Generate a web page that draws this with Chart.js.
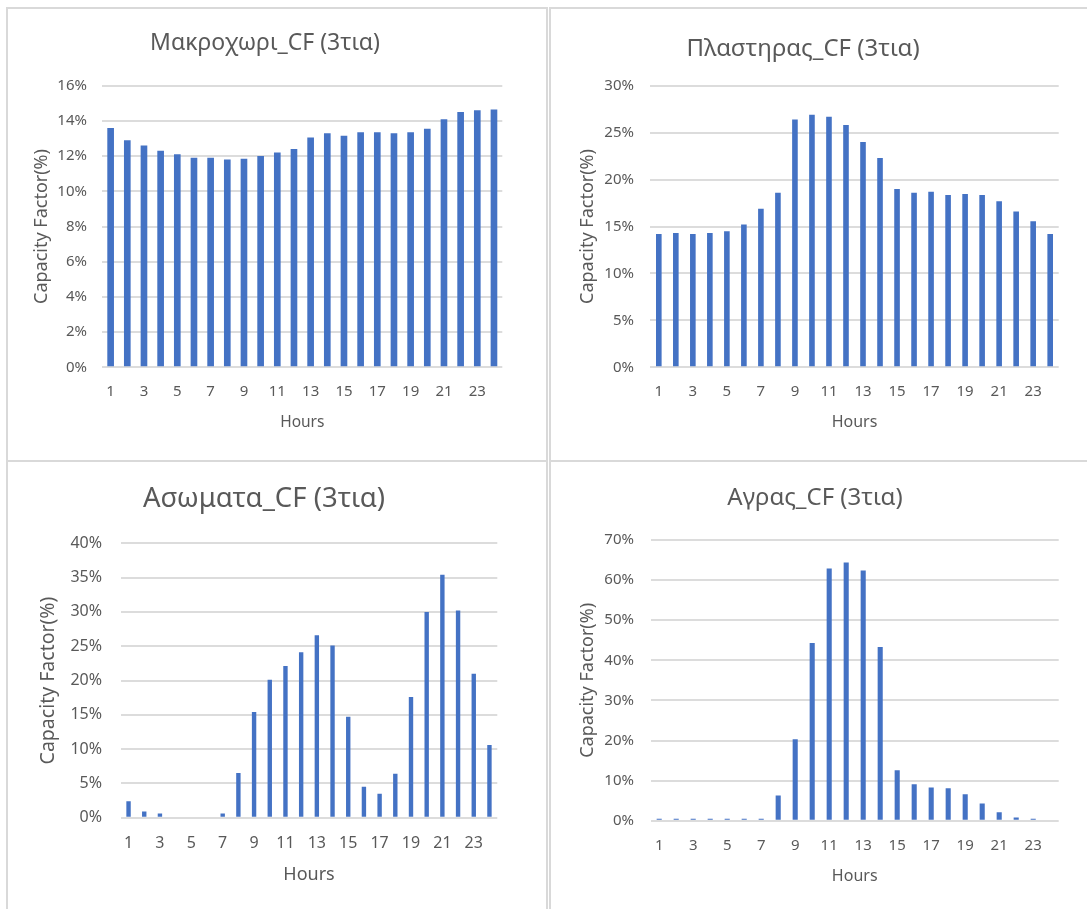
<!DOCTYPE html>
<html>
<head>
<meta charset="utf-8">
<script src="https://cdn.jsdelivr.net/npm/chart.js@4.4.1/dist/chart.umd.min.js"></script>
<style>
  body { margin: 0; background: #fff; width: 1087px; height: 909px; overflow: hidden; position: relative; }
  .panel { position: absolute; box-sizing: border-box; border: 2px solid #d9d9d9; }
  canvas { position: absolute; }
</style>
</head>
<body>
<div class="panel" style="left:6px;top:7px;width:542px;height:455px"></div>
<div class="panel" style="left:549px;top:7px;width:545px;height:455px"></div>
<div class="panel" style="left:6px;top:460px;width:542px;height:460px"></div>
<div class="panel" style="left:549px;top:460px;width:545px;height:460px"></div>

<canvas id="c1" style="left:8px;top:9px"></canvas>
<canvas id="c2" style="left:540px;top:9px"></canvas>
<canvas id="c3" style="left:8px;top:464px"></canvas>
<canvas id="c4" style="left:540px;top:464px"></canvas>

<script>
var hours = ["1", "2", "3", "4", "5", "6", "7", "8", "9", "10", "11", "12",
    "13", "14", "15", "16", "17", "18", "19", "20", "21", "22", "23", "24"];

// capacity factor per hour, in %
var makroxori = [13.6, 12.9, 12.6, 12.3, 12.1, 11.9, 11.9, 11.8, 11.85, 12.0, 12.2, 12.4,
    13.05, 13.3, 13.15, 13.35, 13.35, 13.3, 13.35, 13.55, 14.1, 14.5, 14.6, 14.65];
var plastiras = [14.2, 14.3, 14.2, 14.3, 14.5, 15.2, 16.9, 18.6, 26.4, 26.9, 26.7, 25.8,
    24.0, 22.3, 19.0, 18.6, 18.7, 18.35, 18.45, 18.35, 17.7, 16.6, 15.55, 14.2];
var asomata = [2.4, 0.9, 0.6, 0, 0, 0, 0.6, 6.5, 15.4, 20.1, 22.1, 24.1,
    26.6, 25.1, 14.7, 4.5, 3.5, 6.4, 17.6, 30.0, 35.4, 30.2, 21.0, 10.6];
var agras = [0.5, 0.5, 0.5, 0.5, 0.5, 0.5, 0.5, 6.3, 20.3, 44.3, 62.9, 64.4,
    62.4, 43.3, 12.6, 9.1, 8.3, 8.1, 6.6, 4.3, 2.1, 0.8, 0.5, 0.25];

var titles = ["Μακροχωρι_CF (3τια)", "Πλαστηρας_CF (3τια)", "Ασωματα_CF (3τια)", "Αγρας_CF (3τια)"];
var yMax = [16, 30, 40, 70];
var yStep = [2, 5, 5, 10];

var textColor = "#595959";
var gridColor = "#dcdcdc";
var fontFamily = "'Noto Sans', 'DejaVu Sans', sans-serif";

function makeChart(id, values, i, s) {
    var canvas = document.getElementById(id);
    canvas.width = s.w;
    canvas.height = s.h;
    canvas.style.width = s.w + "px";
    canvas.style.height = s.h + "px";

    return new Chart(canvas, {
        type: 'bar',
        data: {
            labels: hours,
            datasets: [{
                data: values,
                backgroundColor: "#4472C4",
                borderWidth: 0,
                categoryPercentage: 1,
                barPercentage: s.bar
            }]
        },
        options: {
            responsive: false,
            animation: false,
            layout: { padding: { left: s.padL, right: s.padR, top: 0, bottom: 0 } },
            plugins: {
                legend: { display: false },
                tooltip: { enabled: false },
                title: {
                    display: true,
                    text: titles[i],
                    color: textColor,
                    font: { family: fontFamily, size: s.titleSize, weight: 'normal' },
                    padding: { top: s.titleTop, bottom: s.titleBottom }
                }
            },
            scales: {
                x: {
                    grid: { display: false, drawTicks: false },
                    border: { display: false },
                    ticks: {
                        autoSkip: false,
                        maxRotation: 0,
                        color: textColor,
                        font: { family: fontFamily, size: s.tickSize },
                        padding: s.xTickPad,
                        callback: function(val, index) {
                            // only odd hours get a label
                            return index % 2 == 0 ? hours[index] : "";
                        }
                    },
                    title: {
                        display: true,
                        text: "Hours",
                        color: textColor,
                        font: { family: fontFamily, size: s.hoursSize },
                        padding: { top: 0, bottom: s.xTitlePad }
                    },
                    afterFit: function(scale) { scale.height = s.xH; }
                },
                y: {
                    min: 0,
                    max: yMax[i],
                    grid: { color: gridColor, lineWidth: 2, drawTicks: false },
                    border: { display: false },
                    ticks: {
                        stepSize: yStep[i],
                        color: textColor,
                        font: { family: fontFamily, size: s.tickSize },
                        padding: s.yTickPad,
                        callback: function(val) { return val + "%"; }
                    },
                    title: {
                        display: true,
                        text: "Capacity Factor(%)",
                        color: textColor,
                        font: { family: fontFamily, size: s.axisSize },
                        padding: { top: s.yTitlePad, bottom: 0 }
                    },
                    afterFit: function(scale) { scale.width = s.yW; }
                }
            }
        }
    });
}

makeChart("c1", makroxori, 0, { w: 538, h: 450, padL: 19.7, padR: 43.7, yW: 74.6, xH: 91.7,
    titleSize: 23, titleTop: 20.2, titleBottom: 28.9, tickSize: 15, axisSize: 18, hoursSize: 15.5,
    xTickPad: 15.7, yTickPad: 15.3, xTitlePad: 26.7, yTitlePad: 3.5, bar: 0.40 });

makeChart("c2", plastiras, 1, { w: 547, h: 450, padL: 7.3, padR: 28.3, yW: 103, xH: 91.7,
    titleSize: 24, titleTop: 25.6, titleBottom: 22.3, tickSize: 15, axisSize: 18, hoursSize: 16,
    xTickPad: 15.7, yTickPad: 16.3, xTitlePad: 27, yTitlePad: 29.9, bar: 0.33 });

makeChart("c3", asomata, 2, { w: 538, h: 445, padL: 22.7, padR: 48.7, yW: 90, xH: 91.3,
    titleSize: 27.5, titleTop: 18.5, titleBottom: 27.8, tickSize: 16, axisSize: 19.5, hoursSize: 18,
    xTickPad: 15.7, yTickPad: 18.7, xTitlePad: 23.2, yTitlePad: 5.6, bar: 0.28 });

makeChart("c4", agras, 3, { w: 547, h: 445, padL: 31.3, padR: 28.3, yW: 79.4, xH: 88.3,
    titleSize: 24, titleTop: 19.6, titleBottom: 27.6, tickSize: 15, axisSize: 18, hoursSize: 16,
    xTickPad: 16.3, yTickPad: 16.7, xTitlePad: 23, yTitlePad: 5.9, bar: 0.30 });
</script>
</body>
</html>
